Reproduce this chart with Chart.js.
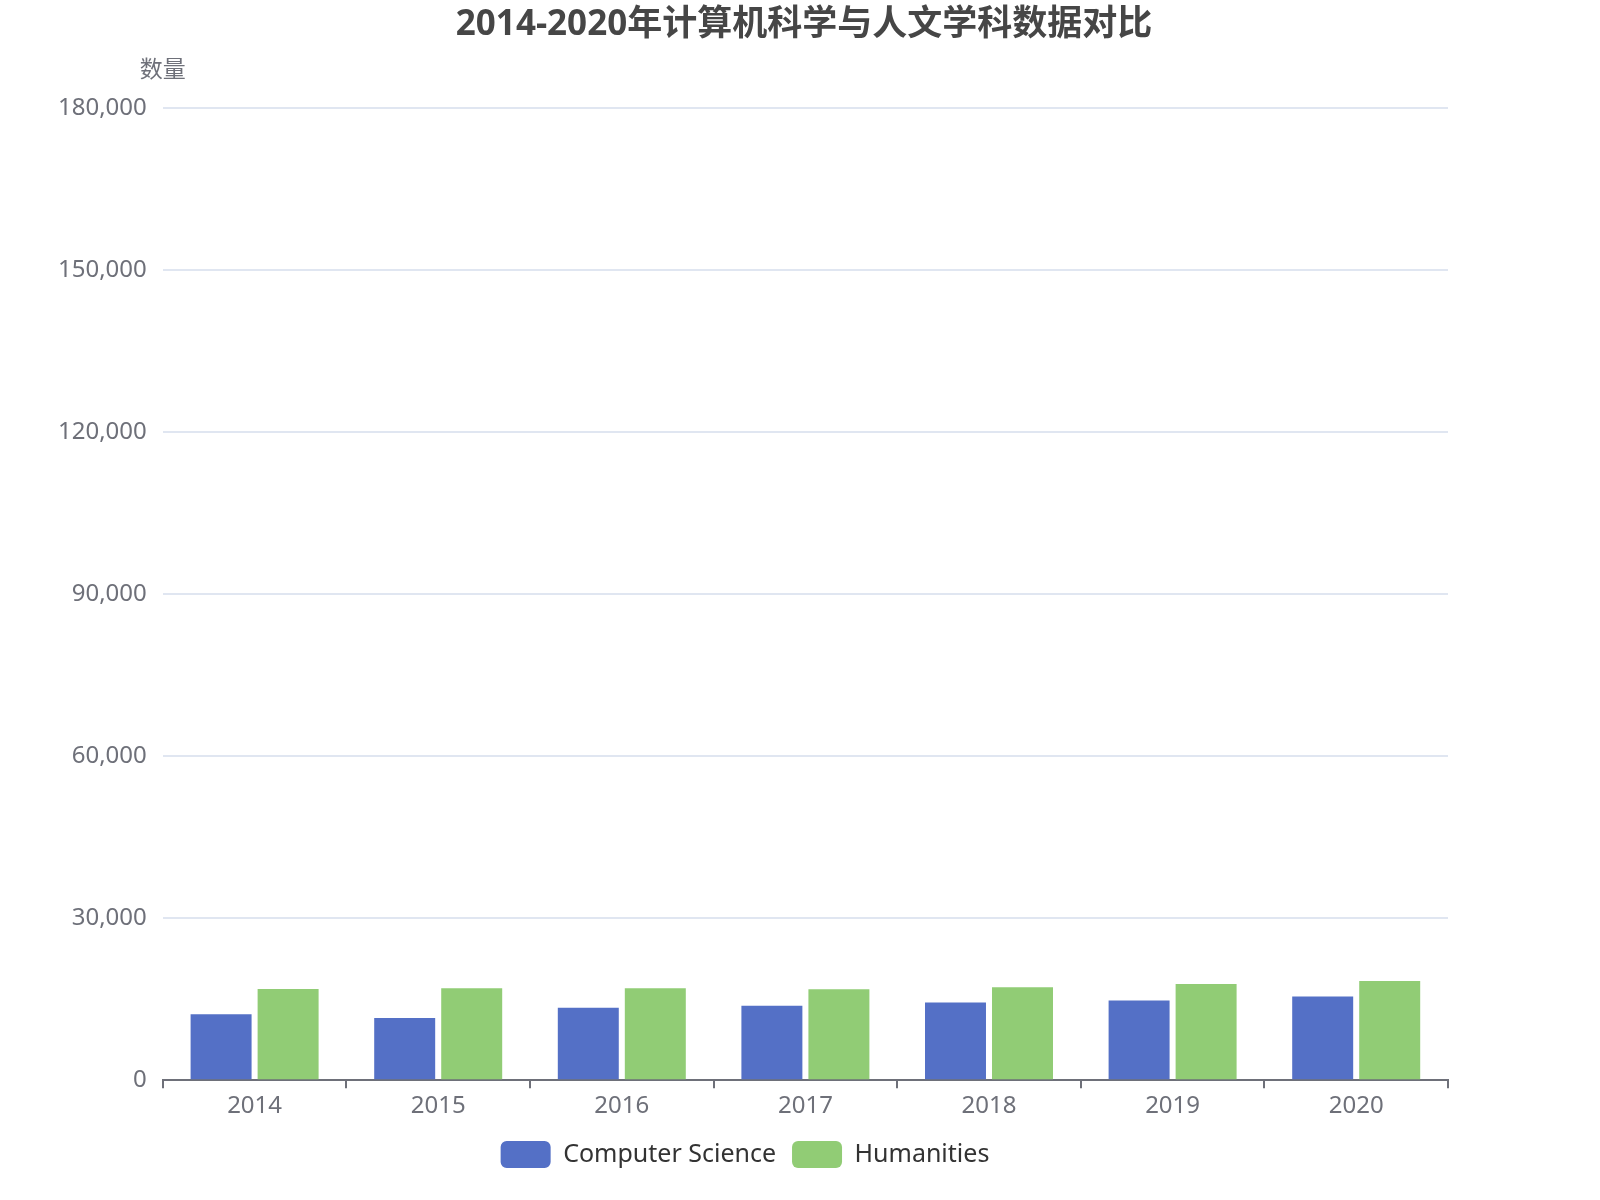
<!DOCTYPE html>
<html><head><meta charset="utf-8">
<script src="https://cdn.jsdelivr.net/npm/chart.js@4"></script>
<style>html,body{margin:0;padding:0;background:#fff}#w{width:1600px;height:1200px}</style>
</head><body><div id="w"><canvas id="c"></canvas></div>
<script>
const years = ['2014','2015','2016','2017','2018','2019','2020'];
const computerScience = [12230, 11520, 13420, 13800, 14370, 14750, 15510];
const humanities = [16900, 17030, 17030, 16840, 17220, 17790, 18360];
const yTicks = [0, 30000, 60000, 90000, 120000, 150000, 180000];
const titleText = '2014-2020年计算机科学与人文学科数据对比';
const font = '"Noto Sans", "Noto Sans CJK SC", sans-serif';

const extras = {
  id: 'extras',
  afterDraw(chart) {
    const ctx = chart.ctx, y = chart.scales.y;
    ctx.save();
    ctx.font = 'bold 35px ' + font;
    ctx.fillStyle = '#464646';
    ctx.textAlign = 'center';
    ctx.textBaseline = 'middle';
    ctx.fillText(titleText, 804, 25);
    ctx.font = '23px ' + font;
    ctx.fillStyle = '#6e7079';
    ctx.textBaseline = 'bottom';
    ctx.fillText('数量', y.right, y.top - 26);
    ctx.restore();
  }
};

new Chart(document.getElementById('c'), {
  type: 'bar',
  data: {
    labels: years,
    datasets: [
      { label: 'Computer Science', data: computerScience, backgroundColor: '#5470c6' },
      { label: 'Humanities', data: humanities, backgroundColor: '#91cc75' }
    ]
  },
  plugins: [extras],
  options: {
    responsive: true, maintainAspectRatio: false, animation: false,
    devicePixelRatio: 1,
    categoryPercentage: 0.73, barPercentage: 0.91,
    layout: { padding: { left: 42, right: 152, top: 108, bottom: 22 } },
    plugins: {
      title: { display: false },
      legend: { position: 'bottom',
        labels: { color: '#333', font: { family: font, size: 25 }, boxWidth: 50, boxHeight: 27,
          useBorderRadius: true, borderRadius: 6, padding: 16 } },
      tooltip: { enabled: false }
    },
    scales: {
      x: {
        offset: true,
        grid: { display: true, drawOnChartArea: false, offset: true, tickLength: 8, color: '#6e7079', lineWidth: 2 },
        border: { display: true, color: '#6e7079', width: 2 },
        ticks: { color: '#6e7079', font: { family: font, size: 24 }, padding: 4 }
      },
      y: {
        min: 0, max: 180000,
        afterBuildTicks(s) { s.ticks = yTicks.map(v => ({ value: v })); },
        grid: { color: '#e0e6f1', lineWidth: 2, drawTicks: false },
        border: { display: false },
        ticks: { color: '#6e7079', font: { family: font, size: 24 }, padding: 16,
          callback: v => v.toLocaleString('en-US') }
      }
    }
  }
});
</script></body></html>
